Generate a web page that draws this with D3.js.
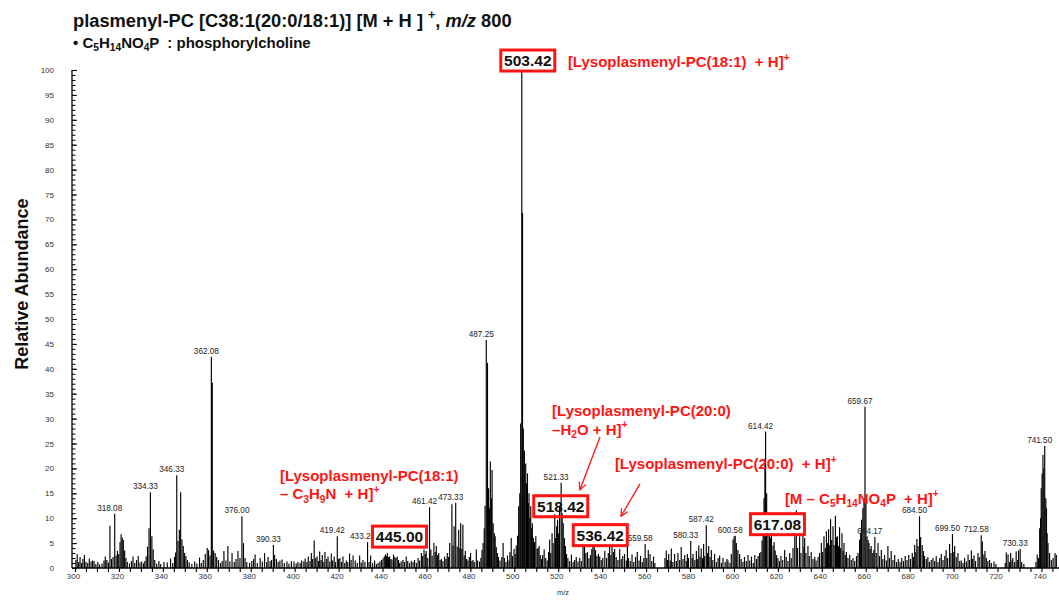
<!DOCTYPE html>
<html><head><meta charset="utf-8">
<script src="https://cdn.jsdelivr.net/npm/d3@7"></script>
<style>
html,body{margin:0;padding:0;background:#fff;}
svg{display:block;font-family:Arial,"Liberation Sans",sans-serif;}
text{white-space:pre;}
</style></head><body>
<svg id="chart" width="1059" height="601"></svg>
<script>
// MS/MS spectrum of plasmenyl-PC [M+H]+ m/z 800, as [m/z, relative abundance] pairs
const spec300 = [[300.4,1.6],[301.0,2.8],[301.7,1.2],[302.3,2.2],[303.0,1.0],[303.6,1.8],[304.3,2.6],[305.0,1.2],[305.8,1.0],[306.5,1.9],[307.3,1.3],[308.0,1.5],[308.7,1.4],[309.5,0.8],[310.4,1.2],[311.2,0.7],[312.3,0.9],[313.2,1.5],[313.8,2.3],[314.5,1.6],[315.2,1.1],
[315.9,8.5],[316.6,1.8],[317.3,2.2],[318.08,10.9],[318.7,2.5],[319.3,3.4],[319.9,2.8],[320.5,5.2],[321.0,6.8],[321.5,6.1],[322.0,5.6],[322.6,3.5],[323.2,2.0],[323.8,1.2],
[324.8,0.9],[325.7,1.4],[326.4,2.3],[327.2,1.0],[328.0,1.6],[328.8,2.4],[329.6,1.1],[330.4,1.3],[331.2,0.9],
[331.8,1.4],[332.4,2.3],[333.0,4.3],[333.7,8.0],[334.33,15.2],[335.0,6.4],[335.6,3.7],[336.3,1.6],[337.2,0.9],
[338.2,1.4],[339.0,0.8],[340.5,1.2],[342.0,1.1],[343.5,1.9],[344.5,1.0],
[345.3,2.2],[345.8,3.1],[346.33,18.6],[346.9,5.4],[347.5,7.7],[348.1,15.2],[348.7,5.7],[349.3,4.4],[349.9,3.0]];
const spec350 = [[350.5,2.4],[351.2,1.6],[352.0,1.1],[353.2,0.8],[354.5,1.3],[355.5,0.9],[356.7,2.1],[357.5,1.0],[358.4,1.6],[359.3,2.8],
[360.2,4.0],[360.8,3.6],[361.5,2.5],[362.08,42.4],[362.5,37.2],[363.1,3.5],[363.8,3.0],[364.5,2.2],[365.3,1.6],[366.2,1.0],
[367.0,1.4],[367.8,3.4],[368.7,1.5],[369.6,4.4],[370.5,1.3],[371.5,3.0],[372.5,1.2],[373.3,1.8],[374.2,3.4],[375.1,2.0],[376.00,10.4],[376.7,5.0],[377.4,2.0],[378.2,1.2],
[379.5,1.0],[380.5,1.4],[381.3,1.8],[382.0,2.7],[383.0,1.0],[384.3,2.0],[385.3,1.3],[386.3,3.0],[387.3,1.2],[387.9,2.2],[388.8,1.4],[389.5,1.6],
[390.33,4.6],[390.9,2.6],[391.7,1.8],[392.5,1.2],[393.3,1.5],[394.3,1.7],[395.3,1.0],[396.5,1.3],[397.4,0.9],[398.5,1.4],[399.7,1.3]];
const spec400 = [[400.7,0.9],[401.5,1.2],[402.5,1.0],[403.2,1.5],[404.2,1.3],[404.8,1.9],[405.6,1.2],[406.2,2.3],[407.0,1.4],[407.6,3.0],[408.2,1.8],[408.9,5.5],[409.6,2.0],[410.2,2.3],[410.8,1.4],[411.4,3.3],[412.0,1.6],[412.6,2.6],[413.3,1.2],[413.8,3.2],[414.6,1.8],[415.2,2.3],[416.0,1.3],[416.7,2.9],[417.3,1.5],[418.0,2.3],[418.6,1.2],[419.42,6.4],[420.0,1.8],[420.6,2.0],
[421.3,1.2],[422.0,2.3],[422.8,1.0],[423.5,1.5],[424.2,1.2],[425.0,2.9],[425.7,1.6],[426.6,2.5],[427.6,1.5],[428.5,1.0],[429.6,2.5],[430.3,1.1],[431.1,1.6],[432.0,1.2],
[433.20,5.2],[433.9,1.2],[434.6,2.5],[435.5,1.0],[436.4,1.5],[437.2,0.8],[438.0,1.0],[438.8,1.3],[439.5,1.6],[440.2,1.9],[440.8,2.3],[441.3,2.7],[441.8,2.4],[442.2,3.0],[442.7,2.2],[443.2,2.3],[443.8,1.8],[444.3,1.7],[445.00,2.7],[445.6,2.2],[446.1,2.0],[446.7,2.3],[447.3,1.6],[447.8,1.0],[448.5,1.3],[449.3,1.6]];
const spec450 = [[450.0,1.2],[450.8,2.3],[451.5,1.4],[452.3,1.0],[453.1,1.4],[453.9,1.2],[454.6,1.6],[455.4,1.0],[456.2,2.0],[456.9,1.5],[457.7,3.0],[458.3,2.4],[458.9,3.7],[459.5,2.8],[459.9,3.4],[460.6,2.0],[461.42,12.2],[462.0,3.7],
[462.6,2.5],[463.4,5.0],[464.0,3.2],[464.5,4.4],[465.1,2.6],[465.6,3.0],[466.2,1.6],[466.8,1.8],[467.5,1.4],[468.3,2.3],[468.9,1.8],[469.5,3.0],[470.1,2.2],[470.6,5.0],[471.6,12.8],[472.1,4.5],[472.6,8.4],[473.33,13.1],[474.0,4.3],[474.7,7.7],[475.2,4.0],[475.6,9.0],[476.1,3.8],[476.6,8.7],[477.2,2.5],[477.7,3.4],[478.3,1.8],[478.9,1.5],[479.5,2.2],[480.1,3.0],[480.7,1.4],[481.2,1.6],[481.8,1.2],[482.7,3.7],[483.3,1.5],[484.2,1.3],
[484.8,2.0],[485.3,3.6],[485.8,5.0],[486.3,8.0],[486.7,12.5],[487.25,45.8],[487.8,41.2],[488.3,16.0],[488.7,12.0],[489.1,21.4],[489.6,14.0],[489.9,19.7],[490.4,9.0],[490.9,7.0],[491.3,6.4],[491.8,4.2],[492.3,3.0],[492.8,2.2],[493.5,1.5],
[494.3,2.2],[494.9,5.0],[495.5,2.0],[496.2,1.2],[496.9,2.5],[497.6,1.5],[498.0,3.2],[498.6,6.0],[499.2,2.4],[499.9,3.8]];
const spec500 = [[500.4,2.8],[500.9,4.5],[501.5,6.5],[502.0,12.4],[502.5,15.0],[502.9,29.0],[503.42,100],[503.75,71.3],[504.1,28.0],[504.6,23.6],[505.2,21.0],[505.6,17.0],[506.0,19.0],[506.4,13.0],[506.7,15.0],[507.1,10.0],[507.5,12.4],[507.9,8.0],[508.2,9.0],[508.7,6.0],[509.2,5.2],[509.8,6.4],[510.4,3.8],[510.8,4.0],[511.3,4.4],[511.8,2.6],[512.4,1.8],
[512.9,2.6],[513.6,3.7],[514.3,2.0],[515.0,1.5],[515.6,3.2],[516.1,5.7],[516.6,3.0],[517.2,7.0],[517.7,5.0],[518.42,10.8],[518.8,6.0],[519.3,8.4],[519.7,9.7],[520.2,7.0],[520.6,12.4],[521.33,17.1],[521.8,11.0],[522.3,9.0],[522.8,6.0],[523.3,4.4],[523.8,2.8],[524.4,2.0],
[525.2,1.4],[526.0,2.7],[526.8,1.2],[527.5,1.6],[528.2,2.2],[529.0,1.3],[529.8,2.0],[530.5,1.4],[531.3,4.4],[532.0,5.7],[532.6,3.0],[533.3,3.2],[534.0,2.0],[534.7,2.6],[535.3,3.8],[535.8,5.0],
[536.42,6.6],[537.0,3.6],[537.6,2.4],[538.3,2.8],[538.9,2.3],[539.6,1.6],[540.3,2.0],[541.2,3.4],[542.0,2.0],[542.8,3.0],[543.4,4.4],[544.0,2.6],[544.5,6.4],[545.1,3.2],[545.7,3.8],[546.4,2.2],[547.2,1.6],[548.0,3.8],[548.7,1.8],[549.4,2.4]];
const spec550 = [[550.2,2.8],[551.0,1.5],[551.5,5.0],[552.0,2.0],[552.8,1.4],[553.6,2.7],[554.4,1.2],[555.2,2.2],[556.0,3.2],[556.8,1.5],[557.5,2.4],[558.3,1.2],[559.0,2.0],[559.58,4.8],[560.3,2.0],[561.0,3.6],[561.8,2.8],[562.6,1.4],[563.4,2.3],[564.0,1.0],
[568.6,2.0],[569.2,3.5],[569.8,1.6],[570.3,2.8],[571.0,1.5],[571.5,3.9],[572.2,1.2],[573.0,2.8],[573.8,1.4],[574.5,3.0],[575.3,1.6],[576.0,4.2],[576.8,1.8],[577.6,2.6],[578.3,1.4],[578.8,2.8],[579.3,2.0],[580.33,5.4],[581.0,2.0],[581.4,2.8],[582.2,1.6],[582.9,3.4],[583.5,1.8],[584.0,4.5],[584.6,2.3],[585.1,3.9],[585.7,2.0],[586.2,4.8],[586.7,2.4],[587.42,8.6],[588.0,3.0],[588.5,4.4],[589.1,2.2],[589.7,3.6],[590.4,1.6],[591.2,2.8],[592.0,1.2],[592.8,2.0],[593.5,2.5],[594.3,1.0],[595.0,2.0],[596.0,1.2],[596.8,1.8],[597.3,1.5],[598.2,1.0],[598.8,2.8],[599.6,5.7]];
const spec600 = [[600.1,6.4],[600.58,6.5],[601.1,5.0],[601.8,3.6],[602.6,2.8],[603.3,1.8],[604.1,1.2],[604.8,2.2],[605.6,1.4],[606.4,2.6],[607.2,1.5],[608.0,2.3],[608.8,1.0],[609.5,2.6],[610.3,1.8],[611.0,2.4],[611.7,3.0],
[612.3,3.2],[612.8,5.5],[613.3,8.0],[613.7,14.0],[614.1,22.0],[614.42,27.4],[614.9,15.0],[615.5,10.0],[616.2,7.5],[616.7,6.0],[617.08,7.8],[617.8,4.5],[618.3,5.2],[618.8,3.5],[619.4,2.6],[620.0,2.0],[620.7,1.4],
[621.4,2.4],[622.2,1.6],[623.1,3.6],[623.8,2.2],[624.6,1.4],[625.4,3.0],[626.1,2.0],[626.9,4.0],[627.7,6.4],[628.4,11.6],[629.0,4.0],[629.9,6.4],[630.5,3.0],[631.4,8.4],[631.9,4.2],[632.2,6.0],[632.8,3.0],[633.7,4.4],[634.3,2.4],[635.2,3.2],[636.0,1.8],[636.8,2.2],
[637.4,1.5],[638.3,2.2],[639.0,3.0],[639.8,5.0],[640.4,3.2],[641.0,6.4],[641.6,4.0],[642.1,7.4],[642.6,5.0],[643.1,7.8],[643.6,4.6],[644.0,9.8],[644.5,5.6],[645.1,8.4],[645.6,4.6],[646.2,10.5],[646.7,6.2],[647.1,6.4],[647.6,4.4],[648.1,8.2],[648.6,4.0],[649.2,7.0],[649.7,3.4]];
const spec650 = [[650.1,5.0],[650.7,2.6],[651.2,3.2],[651.9,2.0],[652.7,2.6],[653.4,1.6],[654.2,2.0],[655.0,1.4],[655.8,2.4],[656.5,3.0],
[657.2,5.7],[657.7,7.0],[658.1,9.7],[658.7,12.0],[659.2,14.0],[659.67,32.4],[660.1,13.0],[660.6,6.4],[661.1,5.6],[661.5,5.0],[662.0,3.8],[662.5,4.4],[663.2,3.0],[663.7,3.6],[664.17,6.2],[664.8,3.0],[665.6,5.0],[666.3,2.4],[667.1,3.6],[667.8,1.8],[668.6,2.6],[669.4,1.5],[670.1,4.4],[670.8,2.0],[671.6,3.4],[672.4,1.6],[673.2,2.6],[674.0,1.2],[674.8,1.8],
[675.6,1.2],[676.4,2.0],[677.2,1.4],[678.0,2.4],[678.8,1.6],[679.6,2.6],[680.4,1.8],[681.2,3.0],[681.7,2.2],[682.3,4.6],[682.8,3.2],[683.3,5.8],[683.8,4.4],[684.50,10.4],[685.0,6.2],[685.7,4.6],[686.3,3.4],[686.8,2.4],[687.6,1.8],[688.3,2.2],[689.0,1.2],[689.8,1.6],[690.6,2.0],[691.4,1.4],[692.1,2.4],[692.9,1.2],[693.7,2.0],[694.4,2.8],[695.2,1.6],[696.0,2.4],[696.6,3.6],[697.3,2.0],[698.2,4.8],[698.8,3.0],[699.50,6.8]];
const spec700 = [[700.1,3.2],[700.5,4.4],[701.2,2.2],[702.0,3.0],[702.8,1.4],[703.5,1.5],[704.3,1.0],[705.0,2.0],[705.8,1.3],[706.6,2.7],[707.3,1.6],[708.1,3.5],[708.7,1.8],[709.3,2.5],[710.0,1.4],[711.1,3.0],[711.7,2.2],[712.58,6.6],[713.1,5.3],[713.8,2.7],[714.3,3.4],[714.9,2.0],[715.6,1.4],[716.4,1.6],[717.2,1.0],[718.4,1.3],[719.3,0.8],
[723.5,1.0],[724.0,3.1],[724.8,2.7],[725.4,1.2],[726.0,3.0],[726.6,1.5],[727.0,2.0],[727.8,1.2],[728.5,3.3],[729.2,1.6],[729.6,3.5],[730.33,3.8],[731.0,1.2],[732.0,0.8],
[737.5,1.2],[738.1,2.7],[738.7,2.0],[739.2,8.0],[739.6,10.0],[739.9,16.0],[740.3,19.0],[740.7,22.7],[741.1,20.0],[741.50,24.5],[742.0,14.0],[742.3,12.0],[742.6,7.0],[743.0,5.0],[743.7,3.0],[744.5,1.6],[745.3,2.0],[746.2,3.0],[746.8,2.6]];

// peaks annotated with their m/z, and fragments highlighted with boxes
const labeledMz = [318.08,334.33,346.33,362.08,376.00,390.33,419.42,433.20,461.42,473.33,487.25,521.33,559.58,580.33,587.42,600.58,614.42,659.67,664.17,684.50,699.50,712.58,730.33,741.50];
const boxedMz = [503.42,445.00,518.42,536.42,617.08];
const xTickValues = d3.range(300, 741, 20);
const yTickValues = d3.range(0, 101, 5);

// fragment assignments (text, with _n subscripts and ^+ superscripts)
const fragmentNotes = [
  ["[Lysoplasmenyl-PC(18:1)  + H]^+"],
  ["[Lysoplasmenyl-PC(18:1)", "– C_3H_9N  + H]^+"],
  ["[Lysoplasmenyl-PC(20:0)", "–H_2O + H]^+"],
  ["[Lysoplasmenyl-PC(20:0)  + H]^+"],
  ["[M – C_5H_14NO_4P  + H]^+"]
];

// ---------- layout ----------
const x = d3.scaleLinear().domain([300, 748]).range([75, 1059]);
const y = d3.scaleLinear().domain([0, 100]).range([568, 70]);
const axisX0 = 72;
const RED = "#ff1414";

// annotation placement in data coordinates [m/z, abundance]
const notePos = [[524.4, 100.6], [393.3, 17.5], [517.2, 30.5], [545.8, 19.9], [623.2, 12.9]];
const boxPos = [[503.42, 101.9], [445.0, 6.3], [518.42, 12.4], [536.42, 6.6], [617.08, 8.8]];
const boxOpaque = [true, true, false, true, true];
const arrows = [[[539.0, 26.3], [529.9, 15.7]], [[557.2, 16.9], [548.6, 10.4]]];

const svg = d3.select("#chart");
const spectrum = [].concat(spec300, spec350, spec400, spec450, spec500, spec550, spec600, spec650, spec700)
  .sort((a, b) => a[0] - b[0]);
const heightAt = m => spectrum.find(d => Math.abs(d[0] - m) < 1e-6)[1];

// rich text: _digits -> subscript, ^+ -> superscript
function rich(sel, str, size) {
  const parts = str.split(/(_\d+|\^\+)/).filter(s => s.length);
  let shift = 0;
  parts.forEach(p => {
    let dy = 0, fs = size, t = p;
    if (p[0] === "_") { t = p.slice(1); dy = size * 0.22; fs = size * 0.68; }
    else if (p[0] === "^") { t = p.slice(1); dy = -size * 0.42; fs = size * 0.68; }
    sel.append("tspan").attr("dy", dy - shift).attr("font-size", fs).text(t);
    shift = dy;
  });
}

// ---------- title ----------
const TS = 18.3;
const title = svg.append("text").attr("x", 73).attr("y", 27)
  .attr("font-size", TS).attr("font-weight", "bold").attr("fill", "#111");
rich(title, "plasmenyl-PC [C38:1(20:0/18:1)] [M + H ] ^+", TS);
title.append("tspan").attr("dy", TS * 0.42).text(", ");
title.append("tspan").attr("font-style", "italic").text("m/z");
title.append("tspan").text(" 800");

const SS = 15;
const sub = svg.append("text").attr("x", 73).attr("y", 47.5)
  .attr("font-size", SS).attr("font-weight", "bold").attr("fill", "#111");
rich(sub, "• C_5H_14NO_4P  : phosphorylcholine", SS);

// ---------- spectrum sticks ----------
svg.append("g").selectAll("line").data(spectrum).join("line")
  .attr("x1", d => x(d[0])).attr("x2", d => x(d[0]))
  .attr("y1", y(0)).attr("y2", d => y(d[1]))
  .attr("stroke", "#000").attr("stroke-width", 1.15);

// ---------- axes ----------
const gx = svg.append("g").attr("transform", `translate(0,${y(0)})`)
  .call(d3.axisBottom(x).tickValues(d3.range(300, 746, 5)).tickSize(4).tickSizeOuter(0)
    .tickFormat(d => (d % 20 === 0 ? d : "")));
gx.select(".domain").remove();
gx.selectAll(".tick line").attr("stroke", "#000").attr("stroke-width", 1.1);
gx.selectAll(".tick text").attr("font-size", 8).attr("fill", "#333").attr("dx", -2).attr("dy", "0.55em")
  .attr("font-family", "Arial, 'Liberation Sans', sans-serif");
svg.append("line").attr("x1", axisX0).attr("x2", x.range()[1]).attr("y1", y(0)).attr("y2", y(0))
  .attr("stroke", "#000").attr("stroke-width", 1.3);

const gy = svg.append("g").attr("transform", `translate(${axisX0},0)`)
  .call(d3.axisRight(y).tickValues(d3.range(0, 101, 1)).tickSize(3.5).tickFormat(""));
gy.select(".domain").remove();
gy.selectAll(".tick line").attr("stroke", "#000");
const gy2 = svg.append("g").attr("transform", `translate(${axisX0},0)`)
  .call(d3.axisRight(y).tickValues(yTickValues).tickSize(5).tickFormat(""));
gy2.select(".domain").remove();
gy2.selectAll(".tick line").attr("stroke", "#000");
const gyl = svg.append("g").attr("transform", `translate(${axisX0},0)`)
  .call(d3.axisLeft(y).tickValues(yTickValues).tickSize(0).tickPadding(18));
gyl.select(".domain").remove();
gyl.selectAll(".tick text").attr("font-size", 8).attr("fill", "#333")
  .attr("font-family", "Arial, 'Liberation Sans', sans-serif");
svg.append("line").attr("x1", axisX0).attr("x2", axisX0).attr("y1", y(0)).attr("y2", y(100))
  .attr("stroke", "#000").attr("stroke-width", 1.3);

svg.append("text").attr("transform", `translate(28,${y(57)}) rotate(-90)`)
  .attr("text-anchor", "middle").attr("font-size", 18).attr("font-weight", "bold").attr("fill", "#111")
  .text("Relative Abundance");
svg.append("text").attr("x", 563).attr("y", 595).attr("text-anchor", "middle")
  .attr("font-size", 7.5).attr("fill", "#333").text("m/z");

// ---------- peak labels ----------
svg.append("g").selectAll("text").data(labeledMz).join("text")
  .attr("x", m => x(m) - 5).attr("y", m => y(heightAt(m)) - 3)
  .attr("text-anchor", "middle").attr("font-size", 8.2).attr("fill", "#222")
  .text(m => m.toFixed(2));

// ---------- boxed fragment labels ----------
const boxes = svg.append("g").selectAll("g").data(boxedMz).join("g")
  .attr("transform", (m, i) => `translate(${x(boxPos[i][0]) + 6},${y(boxPos[i][1])})`);
boxes.append("rect").attr("x", -27).attr("y", -10.5).attr("width", 54).attr("height", 21)
  .attr("fill", (m, i) => (boxOpaque[i] ? "#fff" : "none"))
  .attr("stroke", RED).attr("stroke-width", 3);
boxes.append("text").attr("text-anchor", "middle").attr("y", 5.5)
  .attr("font-size", 15.5).attr("font-weight", "bold").attr("fill", "#111")
  .text(m => m.toFixed(2));

// ---------- fragment notes ----------
fragmentNotes.forEach((lines, i) => {
  lines.forEach((ln, j) => {
    const t = svg.append("text").attr("x", x(notePos[i][0])).attr("y", y(notePos[i][1]) + j * 18.5)
      .attr("font-size", 15).attr("font-weight", "bold").attr("fill", RED);
    rich(t, ln, 15);
  });
});

// ---------- arrows ----------
svg.append("defs").append("marker").attr("id", "head")
  .attr("viewBox", "0 0 10 10").attr("refX", 9).attr("refY", 5)
  .attr("markerWidth", 9).attr("markerHeight", 9).attr("markerUnits", "userSpaceOnUse")
  .attr("orient", "auto")
  .append("path").attr("d", "M1,1 L9,5 L1,9").attr("fill", "none").attr("stroke", RED).attr("stroke-width", 1.4);
svg.append("g").selectAll("line").data(arrows).join("line")
  .attr("x1", d => x(d[0][0])).attr("y1", d => y(d[0][1]))
  .attr("x2", d => x(d[1][0])).attr("y2", d => y(d[1][1]))
  .attr("stroke", RED).attr("stroke-width", 1.3).attr("marker-end", "url(#head)");
</script>
</body></html>
